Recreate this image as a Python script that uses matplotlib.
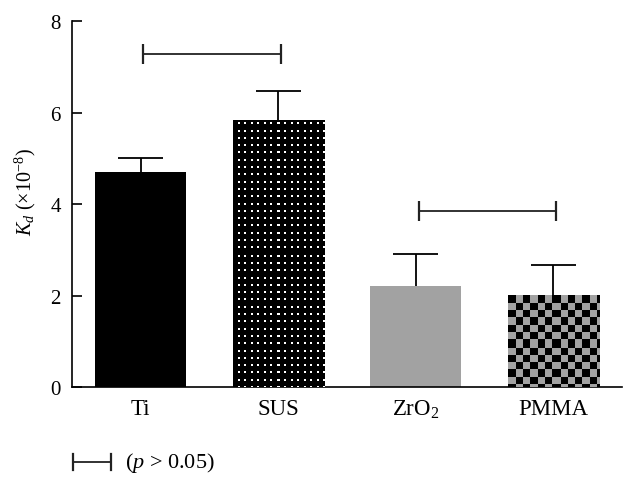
import numpy as np
import matplotlib
matplotlib.use('Agg')
import matplotlib.pyplot as plt
from matplotlib.lines import Line2D

plt.rcParams['font.family'] = ['Liberation Serif', 'DejaVu Serif']
plt.rcParams['mathtext.fontset'] = 'custom'
plt.rcParams['mathtext.rm'] = 'Liberation Serif'
plt.rcParams['mathtext.it'] = 'Liberation Serif:italic'

# data
materials = ['Ti', 'SUS', 'ZrO$_2$', 'PMMA']
kd_mean = [4.70, 5.82, 2.21, 1.99]
kd_sd = [0.30, 0.66, 0.70, 0.68]
pairs = [(0, 1), (2, 3)]
pair_heights = [7.28, 3.84]
yticks = [0, 2, 4, 6, 8]

gray = np.array([162, 162, 162]) / 255
black = np.zeros(3)

fig = plt.figure(figsize=(6.36, 4.89), dpi=100)
ax = fig.add_axes([0.1132, 0.2065, 0.8648, 0.7485])

x = np.arange(len(materials))
bars = ax.bar(x, kd_mean, width=0.665, color=['black', 'black', gray, gray],
              edgecolor='none', zorder=2)
ax.set_xlim(-0.5, 3.5)
ax.set_ylim(0, 8)


def texture(ax, patch, kind):
    # fill a bar with a pixel pattern, clipped to the bar
    bb = patch.get_window_extent()
    nx, ny = int(round(bb.width)), int(round(bb.height))
    xx, yy = np.meshgrid(np.arange(nx), np.arange(ny))
    img = np.zeros((ny, nx, 3))
    if kind == 'dots':
        img[:] = black
        mask = ((xx + 2) % 6.5 < 2) & ((yy + 5.5) % 7.3 < 2)
        img[mask] = 1.0
    else:
        mask = (np.floor(xx / 7.3) + np.floor(yy / 7.3)) % 2 == 0
        img[:] = gray
        img[mask] = black
    x0 = patch.get_x()
    ext = (x0, x0 + patch.get_width(), 0, patch.get_height())
    ax.imshow(img, extent=ext, interpolation='nearest', aspect='auto',
              clip_path=patch, zorder=3)


texture(ax, bars[1], 'dots')
texture(ax, bars[3], 'check')
ax.set_xlim(-0.5, 3.5)
ax.set_ylim(0, 8)

# upper error bars only
cap = 0.165
tops = np.array(kd_mean) + np.array(kd_sd)
ax.vlines(x, kd_mean, tops, color='black', lw=1.3, zorder=4)
ax.hlines(tops, x - cap, x + cap, color='black', lw=1.3, zorder=4)

# p > 0.05 brackets
for (a, b), h in zip(pairs, pair_heights):
    xa, xb = x[a] + 0.02, x[b] + 0.02
    ax.plot([xa, xb], [h, h], color='#222222', lw=1.3, zorder=4)
    ax.vlines([xa, xb], h - 0.22, h + 0.22, color='#222222', lw=1.6, zorder=4)

for s in ['top', 'right']:
    ax.spines[s].set_visible(False)
ax.spines['left'].set_linewidth(1.2)
ax.spines['bottom'].set_linewidth(1.2)

ax.set_yticks(yticks)
ax.tick_params(axis='y', direction='in', length=7.5, width=1.2, labelsize=15, pad=8)
ax.set_xticks(x)
ax.set_xticklabels(materials)
ax.tick_params(axis='x', length=0, labelsize=16.5, pad=8)

ax.set_ylabel(r'$K_d$ (×10$^{-8}$)', fontsize=14.5)
ax.yaxis.set_label_coords(-0.062, 0.535)

# legend for the bracket
ly = 1 - 463 / 489
x1, x2 = 73 / 636, 111 / 636
fig.add_artist(Line2D([x1, x2], [ly, ly], color='#222222', lw=1.3))
for xe in (x1, x2):
    fig.add_artist(Line2D([xe, xe], [ly - 8 / 489, ly + 8 / 489], color='#222222', lw=1.6))
fig.text(125 / 636, ly, r'($p$ > 0.05)', fontsize=16, va='center', ha='left')

fig.savefig('out.png', dpi=100)
